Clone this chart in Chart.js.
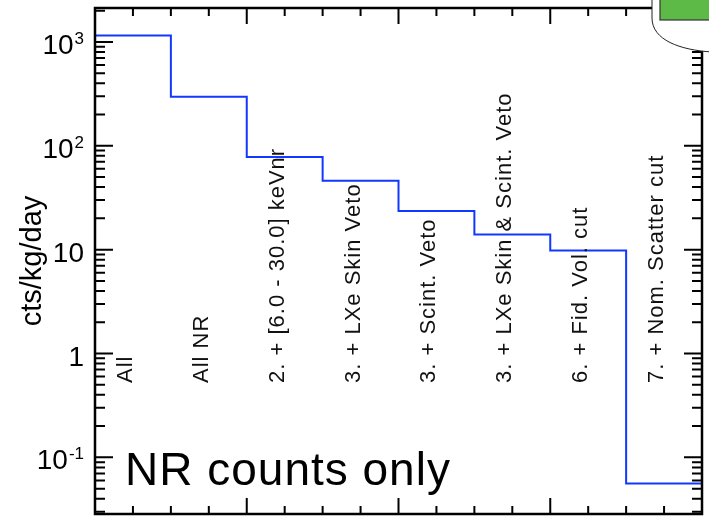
<!DOCTYPE html>
<html>
<head>
<meta charset="utf-8">
<script src="https://cdn.jsdelivr.net/npm/chart.js@4"></script>
<style>
  html, body { margin: 0; padding: 0; background: #fff; }
  #wrap { width: 709px; height: 516px; }
</style>
</head>
<body>
<div id="wrap"><canvas id="cutflow"></canvas></div>
<script>
// cut flow steps (one bin each)
const stepNames = [
  'All',
  'All NR',
  '2. + [6.0 - 30.0] keVnr',
  '3. + LXe Skin Veto',
  '3. + Scint. Veto',
  '3. + LXe Skin & Scint. Veto',
  '6. + Fid. Vol. cut',
  '7. + Nom. Scatter cut'
];
// NR rate after each step, cts/kg/day
const rates = [1150, 296, 78, 46, 23.5, 14, 9.8, 0.056];
// y tick labels: base text and superscript exponent
const yTickValues = [0.1, 1, 10, 100, 1000];
const yTickBase = ['10', '1', '10', '10', '10'];
const yTickExp = ['-1', '', '', '2', '3'];
const yMin = 0.0285;
const yMax = 2120;

const FONT = "'Liberation Sans', Arial, Helvetica, sans-serif";

// step points: left edge of every bin plus the closing right edge
const points = rates.map((v, i) => ({ x: i, y: v }));
points.push({ x: rates.length, y: rates[rates.length - 1] });

// frame, inward ticks on all four sides, labels, note
const decorPlugin = {
  id: 'decor',
  afterDatasetsDraw(chart) {
    const { ctx, chartArea: a, scales } = chart;
    const xs = scales.x, ys = scales.y;
    ctx.save();
    ctx.strokeStyle = '#000';

    // y ticks (log, both sides)
    ctx.lineWidth = 2;
    for (let k = -2; k <= 3; k++) {
      for (let m = 1; m <= 9; m++) {
        const v = m * Math.pow(10, k);
        if (v < yMin || v > yMax) continue;
        const py = ys.getPixelForValue(v);
        const len = m === 1 ? 18 : 10;
        ctx.beginPath();
        ctx.moveTo(a.left, py); ctx.lineTo(a.left + len, py);
        ctx.moveTo(a.right, py); ctx.lineTo(a.right - len, py);
        ctx.stroke();
      }
    }
    // x ticks every half bin, longer every 2 bins
    for (let t = 0; t <= rates.length; t += 0.5) {
      const px = xs.getPixelForValue(t);
      const len = t % 2 === 0 ? 16 : 8;
      ctx.beginPath();
      ctx.moveTo(px, a.bottom); ctx.lineTo(px, a.bottom - len);
      ctx.moveTo(px, a.top); ctx.lineTo(px, a.top + len);
      ctx.stroke();
    }
    // frame
    ctx.lineWidth = 2.5;
    ctx.strokeRect(a.left, a.top, a.right - a.left, a.bottom - a.top);

    // y tick labels with superscripts, right edge at a.left - 11
    ctx.fillStyle = '#000';
    ctx.textBaseline = 'alphabetic';
    ctx.textAlign = 'right';
    const rightX = a.left - 11;
    yTickValues.forEach((v, i) => {
      const py = ys.getPixelForValue(v);
      let x = rightX;
      if (yTickExp[i]) {
        ctx.font = '17px ' + FONT;
        ctx.fillText(yTickExp[i], x, py + 2);
        x -= ctx.measureText(yTickExp[i]).width + 1;
      }
      ctx.font = '28px ' + FONT;
      ctx.fillText(yTickBase[i], x, py + 12);
    });

    // rotated step names
    ctx.fillStyle = '#111';
    ctx.font = '22px ' + FONT;
    ctx.letterSpacing = '1px';
    ctx.textAlign = 'left';
    stepNames.forEach((name, i) => {
      const px = xs.getPixelForValue(i + 0.5) - 1;
      ctx.save();
      ctx.translate(px, 383);
      ctx.rotate(-Math.PI / 2);
      ctx.fillText(name, 0, 0);
      ctx.restore();
    });

    // note
    ctx.fillStyle = '#000';
    ctx.font = '46px ' + FONT;
    ctx.fillText('NR counts only', 125, 485);
    ctx.letterSpacing = '0px';
    ctx.restore();
  },
  afterDraw(chart) {
    // clipped callout box in the top right corner
    const { ctx } = chart;
    ctx.save();
    ctx.beginPath();
    ctx.moveTo(652, -2);
    ctx.lineTo(652, 18);
    ctx.bezierCurveTo(652, 40, 680, 50, 712, 52);
    ctx.lineTo(712, -2);
    ctx.closePath();
    ctx.fillStyle = '#fff';
    ctx.fill();
    ctx.strokeStyle = '#222';
    ctx.lineWidth = 1;
    ctx.stroke();
    ctx.fillStyle = '#5dba47';
    ctx.fillRect(660, -2, 52, 22);
    ctx.strokeStyle = '#333';
    ctx.lineWidth = 1.2;
    ctx.strokeRect(660, -2, 52, 22);
    ctx.restore();
  }
};

const ctx = document.getElementById('cutflow').getContext('2d');
new Chart(ctx, {
  type: 'line',
  data: {
    datasets: [{
      data: points,
      stepped: true,
      borderColor: '#1238ff',
      borderWidth: 2,
      pointRadius: 0,
      fill: false
    }]
  },
  options: {
    responsive: true,
    maintainAspectRatio: false,
    animation: false,
    layout: { padding: { top: 8, right: 7, bottom: 2, left: 0 } },
    plugins: { legend: { display: false }, tooltip: { enabled: false } },
    scales: {
      x: {
        type: 'linear',
        min: 0,
        max: rates.length,
        display: false
      },
      y: {
        type: 'logarithmic',
        min: yMin,
        max: yMax,
        grid: { display: false, drawTicks: false },
        border: { display: false },
        afterFit(scale) {
          scale.width = 95;
          scale.paddingTop = 0;
          scale.paddingBottom = 0;
        },
        afterBuildTicks(scale) {
          scale.ticks = yTickValues.map(v => ({ value: v }));
        },
        ticks: { display: false },
        title: {
          display: true,
          text: 'cts/kg/day',
          color: '#000',
          font: { family: FONT, size: 29 },
          padding: { top: 16, bottom: 0 }
        }
      }
    }
  },
  plugins: [decorPlugin]
});
</script>
</body>
</html>
